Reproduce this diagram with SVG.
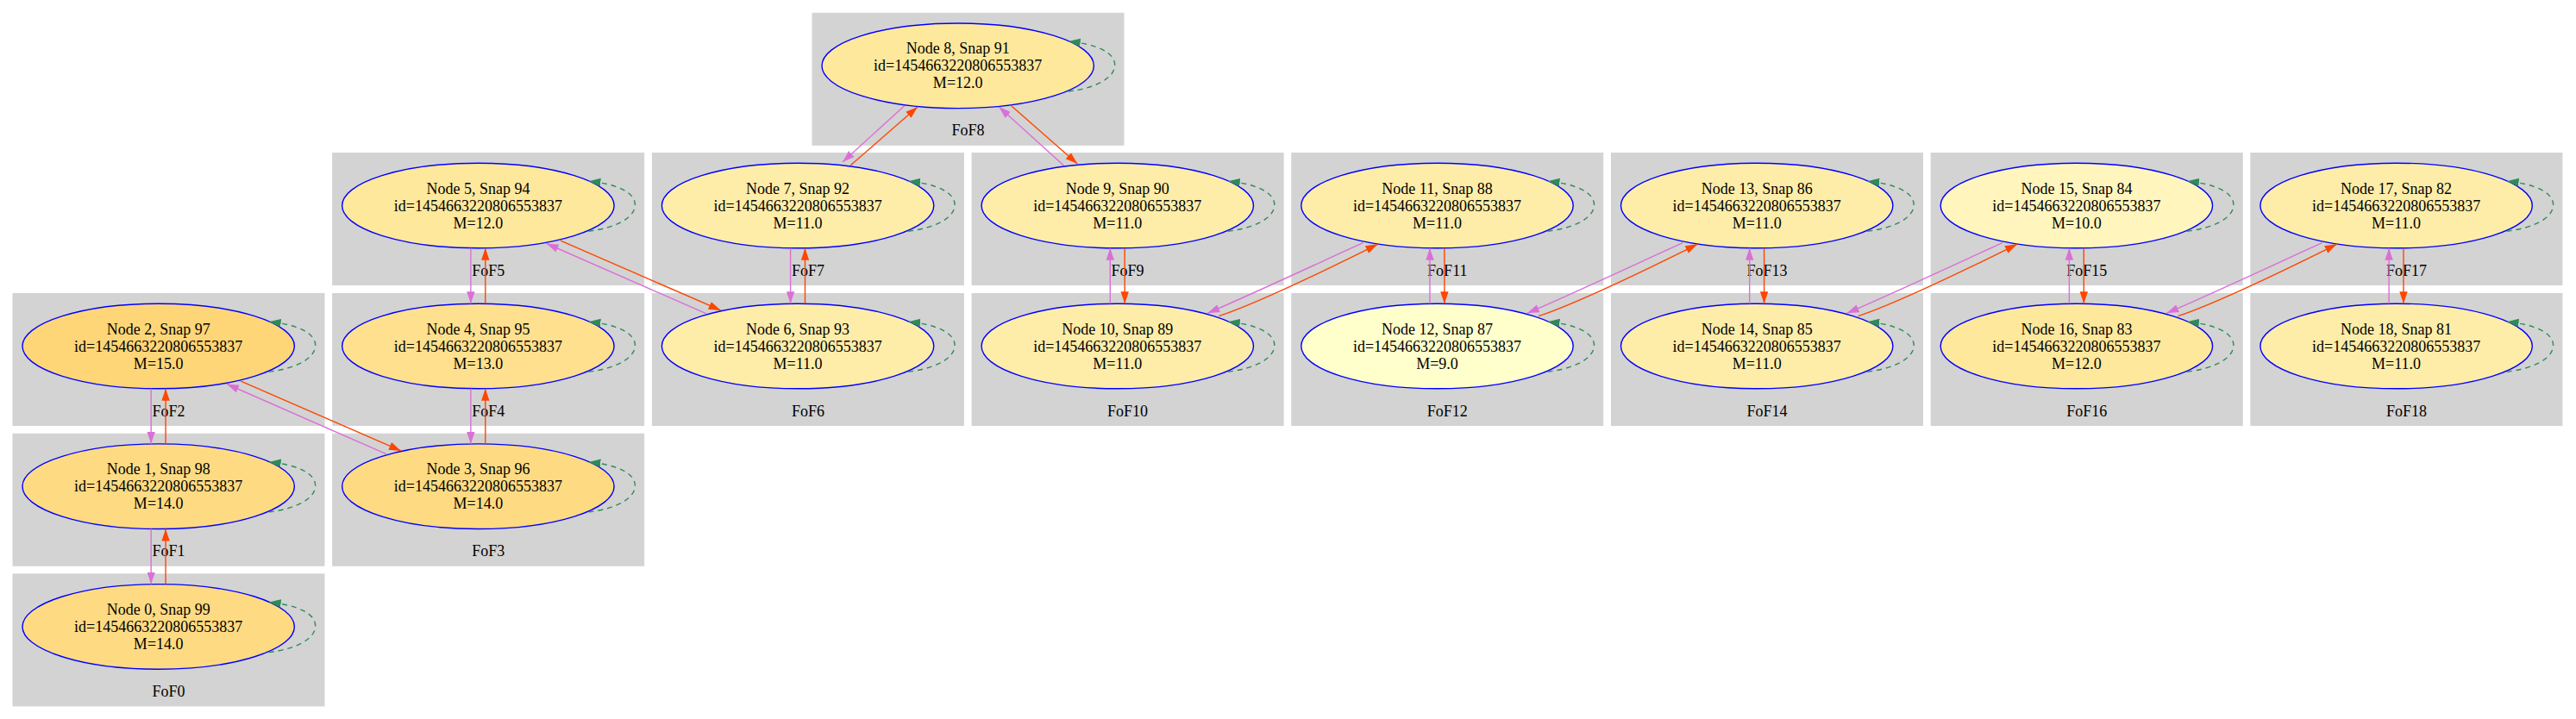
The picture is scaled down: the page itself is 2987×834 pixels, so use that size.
<svg xmlns="http://www.w3.org/2000/svg" width="2987" height="834" viewBox="0 0 2987 834">
<style>
.cl{fill:#d3d3d3;stroke:#d3d3d3;stroke-width:1}
.t{font-family:'Liberation Serif','Times New Roman',serif;font-size:18px;text-anchor:middle;fill:#000}
.nd{stroke:#0000ff;stroke-width:1.4}
.e{fill:none;stroke-width:1.4}
.o{stroke:#da70d6;marker-end:url(#mo)}
.r{stroke:#ff4500;marker-end:url(#mr)}
.s{stroke:#2e8b57;stroke-dasharray:6,5;marker-end:url(#ms)}
</style>
<defs>
<marker id="mo" markerUnits="userSpaceOnUse" markerWidth="15" markerHeight="11" refX="14" refY="5" orient="auto"><path d="M0,0.3 L14,5 L0,9.7 z" fill="#da70d6"/></marker>
<marker id="mr" markerUnits="userSpaceOnUse" markerWidth="15" markerHeight="11" refX="14" refY="5" orient="auto"><path d="M0,0.3 L14,5 L0,9.7 z" fill="#ff4500"/></marker>
<marker id="ms" markerUnits="userSpaceOnUse" markerWidth="15" markerHeight="11" refX="14" refY="5" orient="auto"><path d="M0,0.3 L14,5 L0,9.7 z" fill="#2e8b57"/></marker>
</defs>
<rect width="2987" height="834" fill="#fff"/>
<g id="clusters">
<g id="FoF0"><rect class="cl" x="15" y="665.9" width="361" height="153"/><text class="t" x="195.5" y="807.9">FoF0</text></g>
<g id="FoF1"><rect class="cl" x="15" y="503.2" width="361" height="153"/><text class="t" x="195.5" y="645.2">FoF1</text></g>
<g id="FoF2"><rect class="cl" x="15" y="340.5" width="361" height="153"/><text class="t" x="195.5" y="482.5">FoF2</text></g>
<g id="FoF3"><rect class="cl" x="385.7" y="503.2" width="361" height="153"/><text class="t" x="566.2" y="645.2">FoF3</text></g>
<g id="FoF4"><rect class="cl" x="385.7" y="340.5" width="361" height="153"/><text class="t" x="566.2" y="482.5">FoF4</text></g>
<g id="FoF5"><rect class="cl" x="385.7" y="177.5" width="361" height="153"/><text class="t" x="566.2" y="319.5">FoF5</text></g>
<g id="FoF6"><rect class="cl" x="756.4" y="340.5" width="361" height="153"/><text class="t" x="936.9" y="482.5">FoF6</text></g>
<g id="FoF7"><rect class="cl" x="756.4" y="177.5" width="361" height="153"/><text class="t" x="936.9" y="319.5">FoF7</text></g>
<g id="FoF8"><rect class="cl" x="942" y="15.3" width="361" height="153"/><text class="t" x="1122.5" y="157.3">FoF8</text></g>
<g id="FoF9"><rect class="cl" x="1127.1" y="177.5" width="361" height="153"/><text class="t" x="1307.6" y="319.5">FoF9</text></g>
<g id="FoF10"><rect class="cl" x="1127.1" y="340.5" width="361" height="153"/><text class="t" x="1307.6" y="482.5">FoF10</text></g>
<g id="FoF11"><rect class="cl" x="1497.8" y="177.5" width="361" height="153"/><text class="t" x="1678.3" y="319.5">FoF11</text></g>
<g id="FoF12"><rect class="cl" x="1497.8" y="340.5" width="361" height="153"/><text class="t" x="1678.3" y="482.5">FoF12</text></g>
<g id="FoF13"><rect class="cl" x="1868.5" y="177.5" width="361" height="153"/><text class="t" x="2049" y="319.5">FoF13</text></g>
<g id="FoF14"><rect class="cl" x="1868.5" y="340.5" width="361" height="153"/><text class="t" x="2049" y="482.5">FoF14</text></g>
<g id="FoF15"><rect class="cl" x="2239.2" y="177.5" width="361" height="153"/><text class="t" x="2419.7" y="319.5">FoF15</text></g>
<g id="FoF16"><rect class="cl" x="2239.2" y="340.5" width="361" height="153"/><text class="t" x="2419.7" y="482.5">FoF16</text></g>
<g id="FoF17"><rect class="cl" x="2609.9" y="177.5" width="361" height="153"/><text class="t" x="2790.4" y="319.5">FoF17</text></g>
<g id="FoF18"><rect class="cl" x="2609.9" y="340.5" width="361" height="153"/><text class="t" x="2790.4" y="482.5">FoF18</text></g>
</g>
<g id="nodes">
<g id="node0" transform="translate(183.7,726.9)"><ellipse class="nd" rx="157.7" ry="49.3" fill="#fedb82"/><text class="t" y="-14">Node 0, Snap 99</text><text class="t" y="6">id=1454663220806553837</text><text class="t" y="26">M=14.0</text></g>
<g id="node1" transform="translate(183.7,564.2)"><ellipse class="nd" rx="157.7" ry="49.3" fill="#fedb82"/><text class="t" y="-14">Node 1, Snap 98</text><text class="t" y="6">id=1454663220806553837</text><text class="t" y="26">M=14.0</text></g>
<g id="node2" transform="translate(183.7,401.5)"><ellipse class="nd" rx="157.7" ry="49.3" fill="#fed678"/><text class="t" y="-14">Node 2, Snap 97</text><text class="t" y="6">id=1454663220806553837</text><text class="t" y="26">M=15.0</text></g>
<g id="node3" transform="translate(554.4,564.2)"><ellipse class="nd" rx="157.7" ry="49.3" fill="#fedb82"/><text class="t" y="-14">Node 3, Snap 96</text><text class="t" y="6">id=1454663220806553837</text><text class="t" y="26">M=14.0</text></g>
<g id="node4" transform="translate(554.4,401.5)"><ellipse class="nd" rx="157.7" ry="49.3" fill="#fee08e"/><text class="t" y="-14">Node 4, Snap 95</text><text class="t" y="6">id=1454663220806553837</text><text class="t" y="26">M=13.0</text></g>
<g id="node5" transform="translate(554.4,238.5)"><ellipse class="nd" rx="157.7" ry="49.3" fill="#fee89c"/><text class="t" y="-14">Node 5, Snap 94</text><text class="t" y="6">id=1454663220806553837</text><text class="t" y="26">M=12.0</text></g>
<g id="node6" transform="translate(925.1,401.5)"><ellipse class="nd" rx="157.7" ry="49.3" fill="#feeda8"/><text class="t" y="-14">Node 6, Snap 93</text><text class="t" y="6">id=1454663220806553837</text><text class="t" y="26">M=11.0</text></g>
<g id="node7" transform="translate(925.1,238.5)"><ellipse class="nd" rx="157.7" ry="49.3" fill="#feeda8"/><text class="t" y="-14">Node 7, Snap 92</text><text class="t" y="6">id=1454663220806553837</text><text class="t" y="26">M=11.0</text></g>
<g id="node8" transform="translate(1110.7,76.3)"><ellipse class="nd" rx="157.7" ry="49.3" fill="#fee89c"/><text class="t" y="-14">Node 8, Snap 91</text><text class="t" y="6">id=1454663220806553837</text><text class="t" y="26">M=12.0</text></g>
<g id="node9" transform="translate(1295.8,238.5)"><ellipse class="nd" rx="157.7" ry="49.3" fill="#feeda8"/><text class="t" y="-14">Node 9, Snap 90</text><text class="t" y="6">id=1454663220806553837</text><text class="t" y="26">M=11.0</text></g>
<g id="node10" transform="translate(1295.8,401.5)"><ellipse class="nd" rx="157.7" ry="49.3" fill="#feeda8"/><text class="t" y="-14">Node 10, Snap 89</text><text class="t" y="6">id=1454663220806553837</text><text class="t" y="26">M=11.0</text></g>
<g id="node11" transform="translate(1666.5,238.5)"><ellipse class="nd" rx="157.7" ry="49.3" fill="#feeda8"/><text class="t" y="-14">Node 11, Snap 88</text><text class="t" y="6">id=1454663220806553837</text><text class="t" y="26">M=11.0</text></g>
<g id="node12" transform="translate(1666.5,401.5)"><ellipse class="nd" rx="157.7" ry="49.3" fill="#ffffcc"/><text class="t" y="-14">Node 12, Snap 87</text><text class="t" y="6">id=1454663220806553837</text><text class="t" y="26">M=9.0</text></g>
<g id="node13" transform="translate(2037.2,238.5)"><ellipse class="nd" rx="157.7" ry="49.3" fill="#feeda8"/><text class="t" y="-14">Node 13, Snap 86</text><text class="t" y="6">id=1454663220806553837</text><text class="t" y="26">M=11.0</text></g>
<g id="node14" transform="translate(2037.2,401.5)"><ellipse class="nd" rx="157.7" ry="49.3" fill="#feeda8"/><text class="t" y="-14">Node 14, Snap 85</text><text class="t" y="6">id=1454663220806553837</text><text class="t" y="26">M=11.0</text></g>
<g id="node15" transform="translate(2407.9,238.5)"><ellipse class="nd" rx="157.7" ry="49.3" fill="#fff5bd"/><text class="t" y="-14">Node 15, Snap 84</text><text class="t" y="6">id=1454663220806553837</text><text class="t" y="26">M=10.0</text></g>
<g id="node16" transform="translate(2407.9,401.5)"><ellipse class="nd" rx="157.7" ry="49.3" fill="#fee89c"/><text class="t" y="-14">Node 16, Snap 83</text><text class="t" y="6">id=1454663220806553837</text><text class="t" y="26">M=12.0</text></g>
<g id="node17" transform="translate(2778.6,238.5)"><ellipse class="nd" rx="157.7" ry="49.3" fill="#feeda8"/><text class="t" y="-14">Node 17, Snap 82</text><text class="t" y="6">id=1454663220806553837</text><text class="t" y="26">M=11.0</text></g>
<g id="node18" transform="translate(2778.6,401.5)"><ellipse class="nd" rx="157.7" ry="49.3" fill="#feeda8"/><text class="t" y="-14">Node 18, Snap 81</text><text class="t" y="6">id=1454663220806553837</text><text class="t" y="26">M=11.0</text></g>
</g>
<g id="connectors">
<path class="e s" transform="translate(183.7,726.9)" d="M128,29.7 C160,26 182,14 182,-1 C182,-15 162,-25 128,-28.3"/>
<path class="e s" transform="translate(183.7,564.2)" d="M128,29.7 C160,26 182,14 182,-1 C182,-15 162,-25 128,-28.3"/>
<path class="e s" transform="translate(183.7,401.5)" d="M128,29.7 C160,26 182,14 182,-1 C182,-15 162,-25 128,-28.3"/>
<path class="e s" transform="translate(554.4,564.2)" d="M128,29.7 C160,26 182,14 182,-1 C182,-15 162,-25 128,-28.3"/>
<path class="e s" transform="translate(554.4,401.5)" d="M128,29.7 C160,26 182,14 182,-1 C182,-15 162,-25 128,-28.3"/>
<path class="e s" transform="translate(554.4,238.5)" d="M128,29.7 C160,26 182,14 182,-1 C182,-15 162,-25 128,-28.3"/>
<path class="e s" transform="translate(925.1,401.5)" d="M128,29.7 C160,26 182,14 182,-1 C182,-15 162,-25 128,-28.3"/>
<path class="e s" transform="translate(925.1,238.5)" d="M128,29.7 C160,26 182,14 182,-1 C182,-15 162,-25 128,-28.3"/>
<path class="e s" transform="translate(1110.7,76.3)" d="M128,29.7 C160,26 182,14 182,-1 C182,-15 162,-25 128,-28.3"/>
<path class="e s" transform="translate(1295.8,238.5)" d="M128,29.7 C160,26 182,14 182,-1 C182,-15 162,-25 128,-28.3"/>
<path class="e s" transform="translate(1295.8,401.5)" d="M128,29.7 C160,26 182,14 182,-1 C182,-15 162,-25 128,-28.3"/>
<path class="e s" transform="translate(1666.5,238.5)" d="M128,29.7 C160,26 182,14 182,-1 C182,-15 162,-25 128,-28.3"/>
<path class="e s" transform="translate(1666.5,401.5)" d="M128,29.7 C160,26 182,14 182,-1 C182,-15 162,-25 128,-28.3"/>
<path class="e s" transform="translate(2037.2,238.5)" d="M128,29.7 C160,26 182,14 182,-1 C182,-15 162,-25 128,-28.3"/>
<path class="e s" transform="translate(2037.2,401.5)" d="M128,29.7 C160,26 182,14 182,-1 C182,-15 162,-25 128,-28.3"/>
<path class="e s" transform="translate(2407.9,238.5)" d="M128,29.7 C160,26 182,14 182,-1 C182,-15 162,-25 128,-28.3"/>
<path class="e s" transform="translate(2407.9,401.5)" d="M128,29.7 C160,26 182,14 182,-1 C182,-15 162,-25 128,-28.3"/>
<path class="e s" transform="translate(2778.6,238.5)" d="M128,29.7 C160,26 182,14 182,-1 C182,-15 162,-25 128,-28.3"/>
<path class="e s" transform="translate(2778.6,401.5)" d="M128,29.7 C160,26 182,14 182,-1 C182,-15 162,-25 128,-28.3"/>
<path class="e o" d="M175.2,450.8 L175.2,514.9"/>
<path class="e r" d="M192.1,514.9 L192.1,450.8"/>
<path class="e o" d="M175.2,613.5 L175.2,677.6"/>
<path class="e r" d="M192.1,677.6 L192.1,613.5"/>
<path class="e o" d="M545.9,450.8 L545.9,514.9"/>
<path class="e r" d="M562.8,514.9 L562.8,450.8"/>
<path class="e o" d="M545.9,287.8 L545.9,352.2"/>
<path class="e r" d="M562.8,352.2 L562.8,287.8"/>
<path class="e o" d="M916.6,287.8 L916.6,352.2"/>
<path class="e r" d="M933.5,352.2 L933.5,287.8"/>
<path class="e o" d="M1287.3,352.2 L1287.3,287.8"/>
<path class="e r" d="M1304.2,287.8 L1304.2,352.2"/>
<path class="e o" d="M1658,352.2 L1658,287.8"/>
<path class="e r" d="M1674.9,287.8 L1674.9,352.2"/>
<path class="e o" d="M2028.7,352.2 L2028.7,287.8"/>
<path class="e r" d="M2045.6,287.8 L2045.6,352.2"/>
<path class="e o" d="M2399.4,352.2 L2399.4,287.8"/>
<path class="e r" d="M2416.3,287.8 L2416.3,352.2"/>
<path class="e o" d="M2770.1,352.2 L2770.1,287.8"/>
<path class="e r" d="M2787,287.8 L2787,352.2"/>
<path class="e r" d="M279.3,442.2 L465,522.9"/>
<path class="e o" d="M448.4,526.9 L263,445.5"/>
<path class="e r" d="M650,279.2 L835.7,359.9"/>
<path class="e o" d="M819.1,363.9 L633.7,282.5"/>
<path class="e o" d="M1048.4,123 L977,188"/>
<path class="e r" d="M986,192 L1064,124"/>
<path class="e o" d="M1233.5,192 L1158.4,124"/>
<path class="e r" d="M1173,123 L1249.3,190"/>
<path class="e o" d="M1580.5,281.7 C1540,300 1450,342 1400.2,363.3"/>
<path class="e r" d="M1413.3,366.7 C1463,350 1558,303 1597.5,283.3"/>
<path class="e o" d="M1951.2,281.7 C1910.7,300 1820.7,342 1770.9,363.3"/>
<path class="e r" d="M1784,366.7 C1833.7,350 1928.7,303 1968.2,283.3"/>
<path class="e o" d="M2321.9,281.7 C2281.4,300 2191.4,342 2141.6,363.3"/>
<path class="e r" d="M2154.7,366.7 C2204.4,350 2299.4,303 2338.9,283.3"/>
<path class="e o" d="M2692.6,281.7 C2652.1,300 2562.1,342 2512.3,363.3"/>
<path class="e r" d="M2525.4,366.7 C2575.1,350 2670.1,303 2709.6,283.3"/>
</g>
</svg>
